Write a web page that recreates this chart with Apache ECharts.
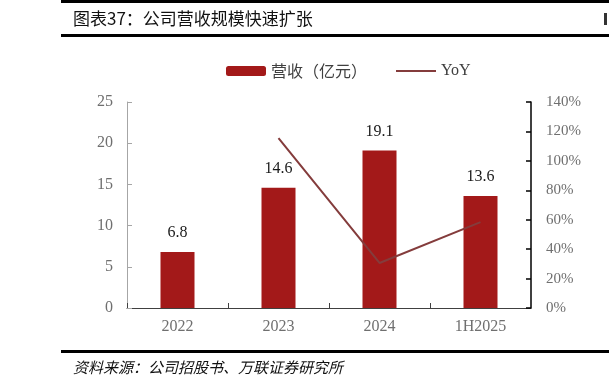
<!DOCTYPE html>
<html>
<head>
<meta charset="utf-8">
<script src="https://cdn.jsdelivr.net/npm/echarts@6/dist/echarts.min.js"></script>
<style>
html,body{margin:0;padding:0;background:#fff;}
#c{width:609px;height:388px;}
</style>
</head>
<body>
<div id="c"></div>
<script>
const categories = ['2022', '2023', '2024', '1H2025'];
const revenue = [6.8, 14.6, 19.1, 13.6];
const yoy = [null, 115.5, 30.6, 58.4];
const leftTicks = {min: 0, max: 25, interval: 5};
const rightTicks = {min: 0, max: 140, interval: 20};
const titleText = '图表37：公司营收规模快速扩张';
const sourceText = '资料来源：公司招股书、万联证券研究所';
const seriesNames = ['营收（亿元）', 'YoY'];

const serif = '"Liberation Serif", "Noto Sans CJK SC", serif';
const cjk = '"Noto Sans CJK SC", sans-serif';

const chart = echarts.init(document.getElementById('c'), null, {renderer: 'canvas'});
chart.setOption({
  animation: false,
  backgroundColor: '#fff',
  graphic: [
    {type: 'rect', shape: {x: 61, y: 0, width: 548, height: 3}, style: {fill: '#000'}},
    {type: 'rect', shape: {x: 61, y: 34, width: 548, height: 3}, style: {fill: '#000'}},
    {type: 'rect', shape: {x: 61, y: 350, width: 548, height: 3}, style: {fill: '#000'}},
    {type: 'rect', shape: {x: 604, y: 13, width: 3, height: 12}, style: {fill: '#333'}},
    {type: 'text', left: 73, top: 10, style: {text: titleText, font: '17px ' + cjk, fill: '#111'}},
    {type: 'text', left: 73, top: 360, style: {text: sourceText, font: 'italic 15px ' + cjk, fill: '#111'}}
  ],
  legend: {
    left: 221, top: 58,
    itemWidth: 40, itemHeight: 10, itemGap: 29,
    textStyle: {fontFamily: cjk, fontSize: 16, color: '#404040'},
    data: [
      {name: seriesNames[0]},
      {name: seriesNames[1], icon: 'path://M0,0 L40,0 L40,2 L0,2 Z',
       itemStyle: {color: '#843C3C'},
       textStyle: {fontFamily: serif, fontSize: 16}}
    ]
  },
  grid: {left: 127, right: 78, top: 102, bottom: 80},
  xAxis: {
    type: 'category',
    data: categories,
    boundaryGap: true,
    axisLine: {lineStyle: {color: '#404040', width: 1}},
    axisTick: {show: true, inside: true, length: 5, lineStyle: {color: '#404040'}},
    axisLabel: {color: '#6f6f6f', fontFamily: serif, fontSize: 16, margin: 11}
  },
  yAxis: [
    {
      type: 'value', min: leftTicks.min, max: leftTicks.max, interval: leftTicks.interval,
      axisLine: {show: true, lineStyle: {color: '#a6a6a6', width: 1}},
      axisTick: {show: true, inside: true, length: 5, lineStyle: {color: '#a6a6a6'}},
      splitLine: {show: false},
      axisLabel: {color: '#6f6f6f', fontFamily: serif, fontSize: 16, margin: 14}
    },
    {
      type: 'value', min: rightTicks.min, max: rightTicks.max, interval: rightTicks.interval,
      position: 'right',
      axisLine: {show: true, lineStyle: {color: '#000', width: 1.5}},
      axisTick: {show: true, inside: true, length: 5, lineStyle: {color: '#000', width: 1.5}},
      splitLine: {show: false},
      axisLabel: {color: '#6f6f6f', fontFamily: serif, fontSize: 15, margin: 15, formatter: '{value}%'}
    }
  ],
  series: [
    {
      name: seriesNames[0], type: 'bar', data: revenue, yAxisIndex: 0,
      barWidth: 34,
      itemStyle: {color: '#A31919'},
      label: {show: true, position: 'top', distance: 11, color: '#1a1a1a', fontFamily: serif, fontSize: 16}
    },
    {
      name: seriesNames[1], type: 'line', data: yoy, yAxisIndex: 1,
      symbol: 'none', showSymbol: false, connectNulls: false,
      lineStyle: {color: '#843C3C', width: 2},
      itemStyle: {color: '#843C3C'}
    }
  ]
});
</script>
</body>
</html>
